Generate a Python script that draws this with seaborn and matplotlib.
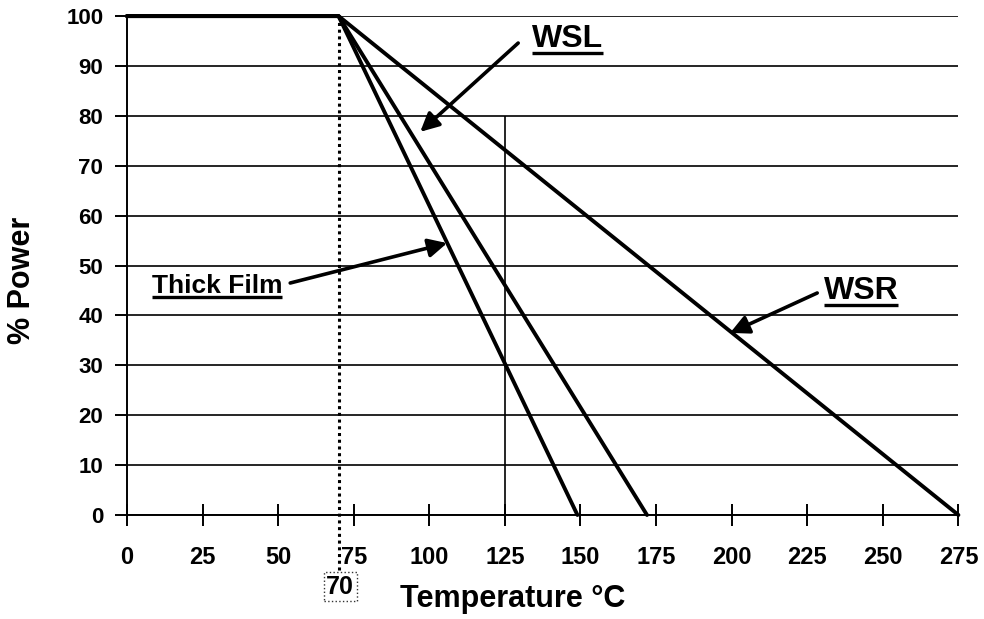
import pandas as pd
import seaborn as sns
import matplotlib.pyplot as plt

# derating curves: % power vs temperature
temp_thick = [0, 70, 149]
power_thick = [100, 100, 0]
temp_wsl = [0, 70, 172]
power_wsl = [100, 100, 0]
temp_wsr = [0, 70, 275]
power_wsr = [100, 100, 0]

x_ticks = [0, 25, 50, 75, 100, 125, 150, 175, 200, 225, 250, 275]
y_ticks = [0, 10, 20, 30, 40, 50, 60, 70, 80, 90, 100]

knee_temp = 70
marker_temp = 125
marker_top = 80

sns.set_style("white")
plt.rcParams["font.family"] = ["Liberation Sans", "DejaVu Sans"]
plt.rcParams["font.weight"] = "bold"
plt.rcParams["text.color"] = "black"
plt.rcParams["axes.labelcolor"] = "black"

fig = plt.figure(figsize=(9.84, 6.19), dpi=100)
ax = fig.add_axes([0.129, 0.168, 0.845, 0.806])

ax.set_xlim(0, 275)
ax.set_ylim(0, 100)
ax.set_yticks(y_ticks)
ax.set_xticks(x_ticks)
ax.yaxis.grid(True, color="black", lw=1.2)
ax.xaxis.grid(False)
ax.set_axisbelow(True)

for t, p in [(temp_thick, power_thick), (temp_wsl, power_wsl), (temp_wsr, power_wsr)]:
    df = pd.DataFrame({"temp": t, "power": p})
    sns.lineplot(data=df, x="temp", y="power", ax=ax, color="black", lw=2.8,
                 clip_on=False, sort=False)

# dotted knee line and thin marker line
ax.axvline(knee_temp, ymin=-0.11, ymax=1, color="black", ls=(0, (1, 1.2)), lw=2.2,
           clip_on=False)
ax.vlines(marker_temp, 0, marker_top, color="black", lw=1.2)

for s in ["top", "right"]:
    ax.spines[s].set_visible(False)
for s in ["left", "bottom"]:
    ax.spines[s].set_color("black")
    ax.spines[s].set_linewidth(1.4)

ax.tick_params(axis="x", bottom=True, direction="inout", length=16, width=1.4,
               colors="black", labelsize=17, pad=14)
ax.tick_params(axis="y", left=True, direction="out", length=9, width=1.4,
               colors="black", labelsize=16, pad=8)
for lab in ax.get_xticklabels() + ax.get_yticklabels():
    lab.set_fontweight("bold")

ax.set_xlabel("Temperature °C", fontsize=22, fontweight="bold")
ax.set_ylabel("% Power", fontsize=22, fontweight="bold")
ax.xaxis.set_label_coords(0.4645, -0.138)
ax.yaxis.set_label_coords(-0.108, 0.47)

# boxed knee temperature label
ax.text(knee_temp + 0.5, -0.144, "70", transform=ax.get_xaxis_transform(), ha="center",
        va="center", fontsize=18, fontweight="bold",
        bbox=dict(boxstyle="square,pad=0.1", fc="white", ec="#333333", lw=1.0, ls=":"))

arrow = dict(arrowstyle="-|>", color="black", lw=2.6, mutation_scale=28,
             shrinkA=0, shrinkB=0)

labels = []
ax.annotate("", xy=(97, 76.8), xytext=(129.4, 94.6), arrowprops=arrow)
labels.append(ax.text(145.8, 95.4, "WSL", ha="center", va="center", fontsize=23,
                      fontweight="bold"))
ax.annotate("", xy=(105.9, 54.5), xytext=(54, 46.5), arrowprops=arrow)
labels.append(ax.text(29.8, 45.9, "Thick Film", ha="center", va="center", fontsize=19,
                      fontweight="bold"))
ax.annotate("", xy=(199.5, 36.5), xytext=(228.3, 44.5), arrowprops=arrow)
labels.append(ax.text(242.8, 44.9, "WSR", ha="center", va="center", fontsize=23,
                      fontweight="bold"))

# underline the callout labels
fig.canvas.draw()
renderer = fig.canvas.get_renderer()
inv = ax.transData.inverted()
for t in labels:
    bb = t.get_window_extent(renderer)
    (x0, y0), (x1, _) = inv.transform([(bb.x0, bb.y0 + 1), (bb.x1, bb.y0 + 1)])
    ax.plot([x0, x1], [y0, y0], color="black", lw=2.4, solid_capstyle="butt")

fig.savefig("out.png", dpi=100)
